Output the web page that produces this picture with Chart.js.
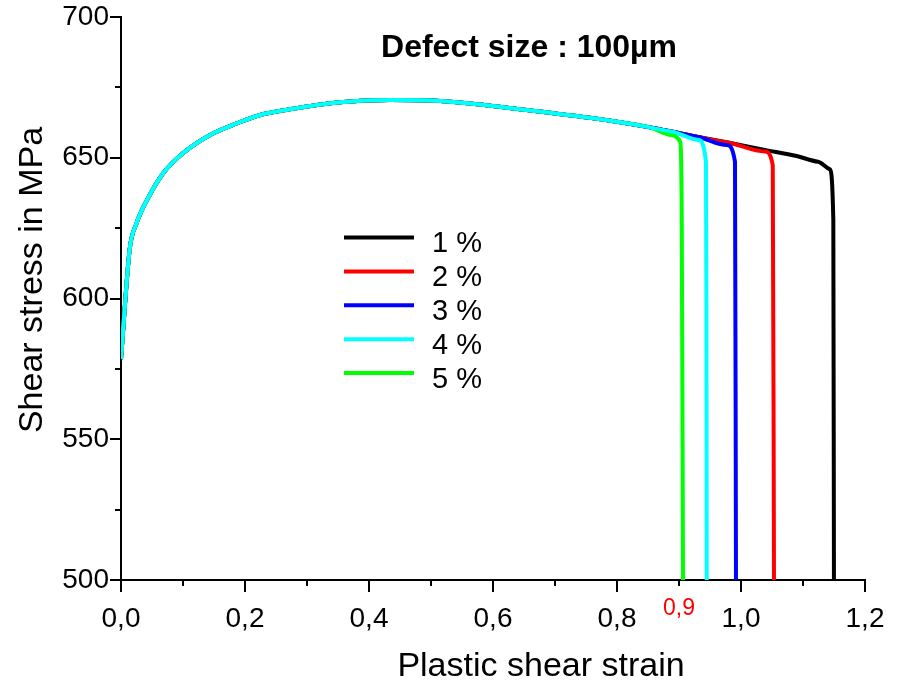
<!DOCTYPE html>
<html>
<head>
<meta charset="utf-8">
<script src="https://cdn.jsdelivr.net/npm/chart.js@4.4.0/dist/chart.umd.min.js"></script>
<style>
  html, body { margin: 0; padding: 0; background: #fff; }
  #wrap { width: 897px; height: 681px; }
</style>
</head>
<body>
<div id="wrap"><canvas id="myChart" width="897" height="681"></canvas></div>
<script>
// shared hardening curve (the 1 % curve is the envelope, the others leave it earlier)
const envStrain = [0, 0.014, 0.025, 0.042, 0.068, 0.0998, 0.1437, 0.1866, 0.2245, 0.2723, 0.3532, 0.434, 0.5148, 0.5956, 0.6754, 0.7562, 0.805, 0.853, 0.888, 0.9308, 0.9767, 1.0385, 1.0899, 1.1243, 1.1432];
const envStress = [578.5, 617.5, 626.7, 635, 644.5, 651.6, 658.1, 662.2, 665.2, 667.2, 669.7, 670.5, 670.2, 668.5, 666.4, 664.2, 662.6, 660.8, 659.3, 657.4, 655.5, 652.8, 650.6, 648.6, 645.9];

const seriesLabels = ['1 %', '2 %', '3 %', '4 %', '5 %'];
const seriesColors = ['#000000', '#ff0000', '#0000ff', '#00ffff', '#00ff00'];
const seriesOrder = [4, 3, 2, 0, 1];   // cyan drawn on top
const leaveStrain = [1.1432, 0.9767, 0.9308, 0.888, 0.853];
const tailStrain = [[1.1489, 1.1499], [1.0387, 1.0512, 1.0532], [0.977, 0.9903, 0.9919], [0.9312, 0.9435, 0.9442, 0.9447], [0.8879, 0.9018, 0.9044, 0.9065]];
const tailStress = [[627.9, 500], [652.2, 647.4, 500], [654.5, 648.6, 500], [656.3, 648.6, 599, 500], [658.1, 655.7, 630.3, 500]];

const xTickLabels = ['0,0', '0,2', '0,4', '0,6', '0,8', '1,0', '1,2'];
const yTickLabels = ['500', '550', '600', '650', '700'];

const FONT = 'Arial, "Liberation Sans", sans-serif';

function buildPoints(i) {
  const pts = [];
  envStrain.forEach((s, k) => {
    if (s <= leaveStrain[i] + 1e-9) pts.push({x: s, y: envStress[k]});
  });
  tailStrain[i].forEach((s, k) => pts.push({x: s, y: tailStress[i][k]}));
  return pts;
}

const datasets = seriesLabels.map((lab, i) => ({
  label: lab,
  data: buildPoints(i),
  borderColor: seriesColors[i],
  backgroundColor: seriesColors[i],
  borderWidth: 4,
  pointRadius: 0,
  cubicInterpolationMode: 'monotone',
  order: seriesOrder[i]
}));

// no extra room for overhanging tick labels, the layout padding decides
function noPad(s) {
  s.paddingTop = 0; s.paddingBottom = 0; s.paddingLeft = 0; s.paddingRight = 0;
}

const extras = {
  id: 'extras',
  afterDraw(chart) {
    const {ctx, scales: {x, y}} = chart;
    ctx.save();
    ctx.strokeStyle = '#000';
    ctx.lineWidth = 2;
    for (let i = 0; i <= 12; i++) {
      const px = Math.round(x.getPixelForValue(i / 10));
      const len = i % 2 === 0 ? 12 : 6;
      ctx.beginPath(); ctx.moveTo(px, y.bottom); ctx.lineTo(px, y.bottom + len); ctx.stroke();
    }
    for (let v = 500; v <= 700; v += 25) {
      const py = Math.round(y.getPixelForValue(v));
      const len = v % 50 === 0 ? 11 : 6;
      ctx.beginPath(); ctx.moveTo(x.left, py); ctx.lineTo(x.left - len, py); ctx.stroke();
    }

    // red 0,9 marker label
    ctx.fillStyle = '#ff0000';
    ctx.font = '23px ' + FONT;
    ctx.textAlign = 'center';
    ctx.textBaseline = 'alphabetic';
    ctx.fillText('0,9', x.getPixelForValue(0.9), 615);

    // titles
    ctx.fillStyle = '#000';
    ctx.font = 'bold 32px ' + FONT;
    ctx.fillText('Defect size : 100\u00b5m', 529, 57);
    ctx.font = '34px ' + FONT;
    ctx.fillText('Plastic shear strain', 541, 676);
    ctx.save();
    ctx.translate(42, 280);
    ctx.rotate(-Math.PI / 2);
    ctx.fillText('Shear stress in MPa', 0, 0);
    ctx.restore();

    // legend
    ctx.font = '29px ' + FONT;
    ctx.textAlign = 'left';
    ctx.lineWidth = 4;
    chart.data.datasets.forEach((ds, i) => {
      const ly = 237.5 + i * 33.9;
      ctx.strokeStyle = ds.borderColor;
      ctx.beginPath(); ctx.moveTo(344, ly); ctx.lineTo(414, ly); ctx.stroke();
      ctx.fillStyle = '#000';
      ctx.fillText(ds.label, 432, ly + 14.4);
    });
    ctx.restore();
  }
};

const config = {
  type: 'line',
  data: {datasets: datasets},
  options: {
    responsive: false,
    animation: false,
    layout: {padding: {left: 0, top: 17, right: 32, bottom: 0}},
    plugins: {legend: {display: false}, tooltip: {enabled: false}},
    scales: {
      x: {
        type: 'linear', min: 0, max: 1.2,
        afterFit: (s) => { s.height = 101; noPad(s); },
        grid: {display: false, drawTicks: false},
        border: {display: true, color: '#000', width: 2},
        ticks: {
          stepSize: 0.1, autoSkip: false, maxRotation: 0, padding: 22,
          color: '#000', font: {size: 28, family: FONT},
          callback: (v) => {
            const i = Math.round(v * 10);
            return i % 2 === 0 ? xTickLabels[i / 2] : '';
          }
        }
      },
      y: {
        type: 'linear', min: 500, max: 700,
        afterFit: (s) => { s.width = 121; noPad(s); },
        grid: {display: false, drawTicks: false},
        border: {display: true, color: '#000', width: 2},
        ticks: {
          stepSize: 25, autoSkip: false, padding: 12,
          color: '#000', font: {size: 28, family: FONT},
          callback: (v) => v % 50 === 0 ? yTickLabels[(v - 500) / 50] : ''
        }
      }
    }
  },
  plugins: [extras]
};

const myChart = new Chart(document.getElementById('myChart'), config);
</script>
</body>
</html>
